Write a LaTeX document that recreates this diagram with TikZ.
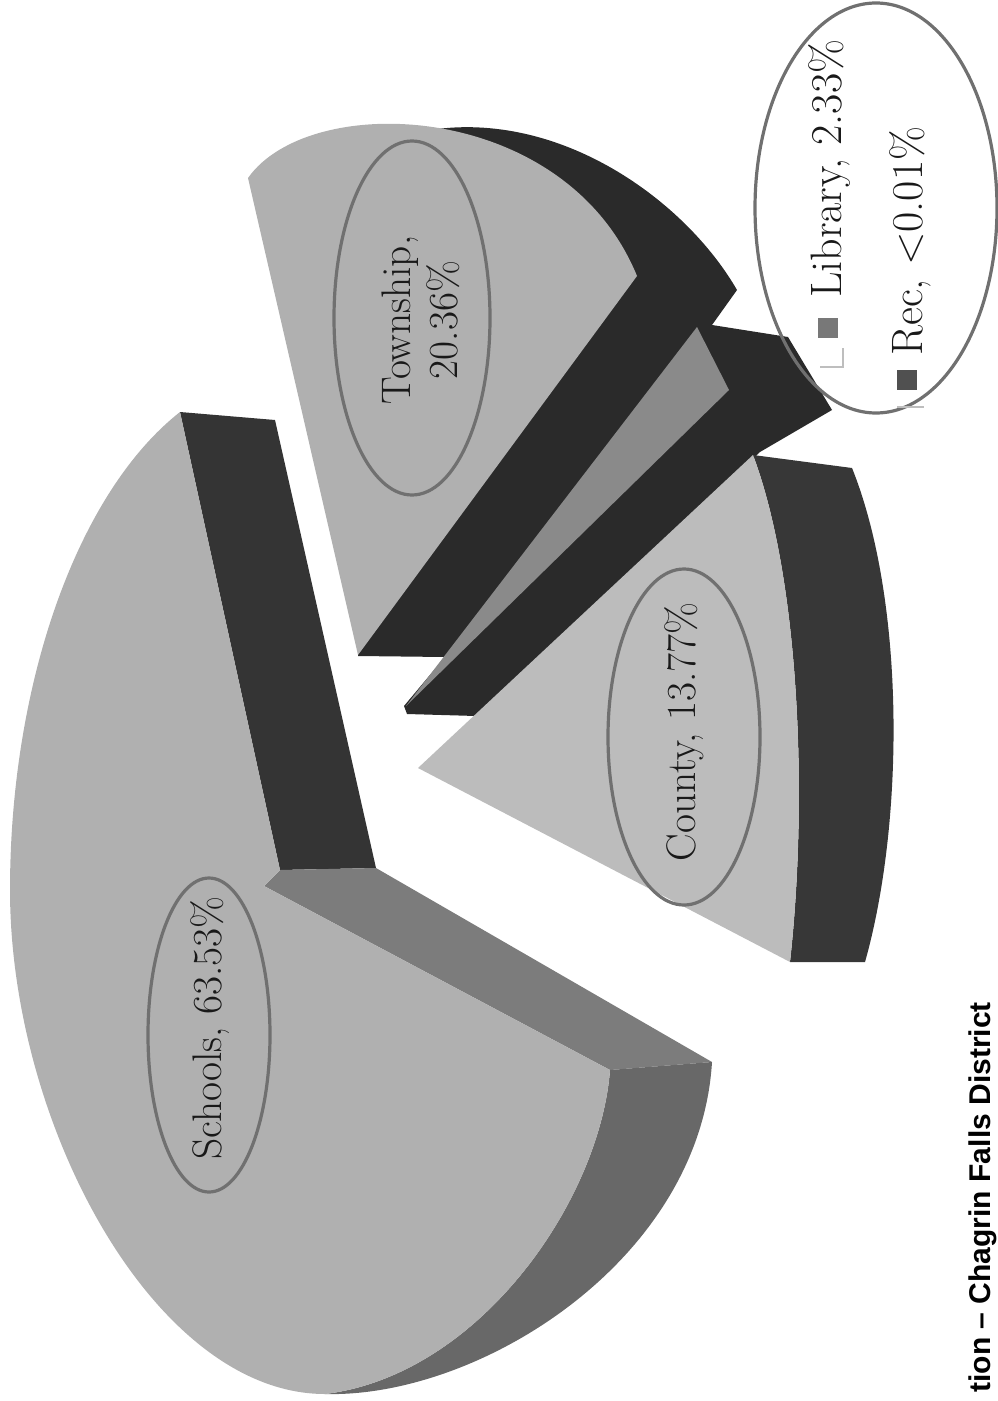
\documentclass[tikz,border=0pt]{standalone}
\usepackage{fontspec}
\usepackage{tikz}
\newfontfamily\titlefont{Liberation Sans}

\begin{document}
\begin{tikzpicture}[x=0.75pt,y=0.75pt,yscale=-1,xscale=1,
  face/.style={fill={rgb, 255:red, 176; green, 176; blue, 176 }},
  dark/.style={fill={rgb, 255:red, 42; green, 42; blue, 42 }},
  ring/.style={draw={rgb, 255:red, 112; green, 112; blue, 112 }, line width=2.4pt},
  lbltxt/.style={rotate=90, inner sep=0pt, align=center, text={rgb, 255:red, 25; green, 25; blue, 25 }, font=\fontsize{31}{35}\selectfont},
  legtxt/.style={lbltxt, anchor=base west, font=\fontsize{33}{38}\selectfont},
  key/.style={minimum size=15pt, inner sep=0pt},
  frame/.style={draw={rgb, 255:red, 190; green, 190; blue, 190 }, line width=0.8pt}]
              \useasboundingbox (0,0) rectangle (998,1401);
              % schools
              \fill  [fill={rgb, 255:red, 52; green, 52; blue, 52 }] (180,412) -- (275,420) -- (376,868) -- (280,870) -- cycle ;
              \fill  [fill={rgb, 255:red, 124; green, 124; blue, 124 }] (280,870) -- (376,868) -- (712,1062) -- (610,1070) -- (264,886) -- cycle ;
              \fill  [fill={rgb, 255:red, 104; green, 104; blue, 104 }] (610,1070) -- (712,1062) .. controls (700,1260) and (480,1398) .. (325,1394) .. controls (480,1375) and (600,1200) .. (610,1070) -- cycle ;
              \fill  [face] (180,412) -- (280,870) -- (264,886) -- (610,1070) .. controls (600,1200) and (480,1375) .. (325,1394) .. controls (155,1394) and (10,1125) .. (10,890) .. controls (10,684) and (77,493) .. (180,412) -- cycle ;
              % township and library
              \fill  [dark] (358,656) -- (430,130) .. controls (560,110) and (685,200) .. (737,290) -- (712,325) -- (788,337) -- (832,410) -- (760,452) -- (476,716) -- (407,714) -- (404,706) -- (445,657) -- cycle ;
              \fill  [fill={rgb, 255:red, 138; green, 138; blue, 138 }] (406,706) -- (697,327) -- (729,390) -- cycle ;
              \fill  [face] (248,178) .. controls (310,90) and (565,100) .. (637,276) -- (358,655) -- cycle ;
              % county
              \fill  [fill={rgb, 255:red, 55; green, 55; blue, 55 }] (753,455) -- (852,468) .. controls (905,600) and (905,820) .. (865,962) -- (790,962) .. controls (808,800) and (800,580) .. (753,455) -- cycle ;
              \fill  [fill={rgb, 255:red, 188; green, 188; blue, 188 }] (418,768) -- (753,455) .. controls (800,580) and (808,800) .. (790,962) -- cycle ;
              % labels
              \draw  [ring] (209,1035) ellipse [x radius=61, y radius=157] ;
              \draw  [ring] (412,318) ellipse [x radius=78, y radius=177] ;
              \draw  [ring] (684,737) ellipse [x radius=76, y radius=168] ;
              \draw  [ring] (876,208) ellipse [x radius=121, y radius=205] ;
              \node [lbltxt] (schools) at (210,1028) {Schools, 63.53\%};
              \node [lbltxt] (township) at (421,320) {\addfontfeature{LetterSpace=5}Township,\\20.36\%};
              \node [lbltxt] (county) at (684,732) {County, 13.77\%};
              % legend
              \node [key, fill={rgb, 255:red, 120; green, 120; blue, 120 }] (libkey) at (828,328) {};
              \node [key, fill={rgb, 255:red, 80; green, 80; blue, 80 }] (reckey) at (907,380) {};
              \node [legtxt] (library) at (841,298) {Library, 2.33\%};
              \node [legtxt] (rec) at (922,356) {Rec, <0.01\%};
              \draw  [frame] (820,367) -- (843,367) -- (843,348) ;
              \draw  [frame] (897,407) -- (924,407) ;
              \node [rotate=90, anchor=base east, inner sep=0pt, font=\titlefont\bfseries\fontsize{22.5}{27}\selectfont] (title) at (990,1002) {tion – Chagrin Falls District};
            \end{tikzpicture}
\end{document}
